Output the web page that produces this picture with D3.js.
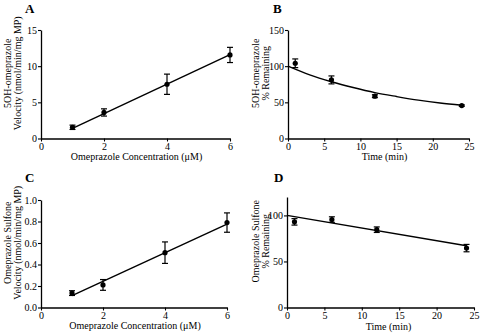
<!DOCTYPE html>
<html>
<head>
<meta charset="utf-8">
<script src="https://cdn.jsdelivr.net/npm/d3@7"></script>
<style>
  body { margin: 0; background: #fff; }
  svg text { font-family: "Liberation Serif", "Times New Roman", serif; fill: #000; }
</style>
</head>
<body>
<svg id="chart" width="480" height="333"></svg>
<script>
// ---- data ----
// A: 5OH-omeprazole formation velocity
var concA = [1, 2, 4, 6];
var velA = [1.55, 3.6, 7.5, 11.55];
var errA = [0.3, 0.5, 1.4, 1.05];
var fitA = [[1, 1.4], [6, 11.6]];

// B: 5OH-omeprazole % remaining
var timeB = [1, 6, 12, 24];
var remB = [104, 81, 58.5, 45.5];
var errB = [6, 5.5, 2, 1];
var fitB = [[0, 100], [3, 88], [6, 78.5], [9, 70.5], [12, 63.5], [15, 58], [18, 53], [21, 49], [24, 46]];

// C: omeprazole sulfone formation velocity
var concC = [1, 2, 4, 6];
var velC = [0.134, 0.21, 0.51, 0.79];
var errC = [0.022, 0.05, 0.1, 0.09];
var fitC = [[1, 0.11], [6, 0.775]];

// D: omeprazole sulfone % remaining
var timeD = [1, 6, 12, 24];
var remD = [93, 95.5, 84.5, 64.5];
var errD = [3.5, 3, 3, 4];
var fitD = [[0, 100], [24, 67]];

var svg = d3.select("#chart");
svg.append("rect").attr("width", 480).attr("height", 333).attr("fill", "#fff");

var panels = [
  {letter: "A", lx: 25, ly: 13, x0: 41, x1: 230, y0: 138.5, y1: 30,
   xDom: [0, 6], xTicks: [0, 2, 4, 6], yDom: [0, 15], yTicks: [0, 5, 10, 15], yFmt: d3.format("d"),
   xs: concA, ys: velA, es: errA, fit: fitA, curve: d3.curveLinear,
   xTitle: "Omeprazole Concentration (\u03bcM)", yTitle: ["5OH-omeprazole", "Velocity (nmol/min/mg MP)"],
   xtY: 160, xtDx: 0, ytX: [11, 21]},
  {letter: "B", lx: 273, ly: 13, x0: 288, x1: 469, y0: 138.5, y1: 30,
   xDom: [0, 25], xTicks: [0, 5, 10, 15, 20, 25], yDom: [0, 150], yTicks: [0, 50, 100, 150], yFmt: d3.format("d"),
   xs: timeB, ys: remB, es: errB, fit: fitB, curve: d3.curveMonotoneX,
   xTitle: "Time (min)", yTitle: ["5OH-omeprazole", "% Remaining"],
   xtY: 160, xtDx: 5, ytX: [259, 269]},
  {letter: "C", lx: 25, ly: 182, x0: 41, x1: 227, y0: 307.5, y1: 200,
   xDom: [0, 6], xTicks: [0, 2, 4, 6], yDom: [0, 1], yTicks: [0, 0.2, 0.4, 0.6, 0.8, 1.0], yFmt: d3.format(".1f"),
   xs: concC, ys: velC, es: errC, fit: fitC, curve: d3.curveLinear,
   xTitle: "Omeprazole Concentration (\u03bcM)", yTitle: ["Omeprazole Sulfone", "Velocity (nmol/min/mg MP)"],
   xtY: 329, xtDx: 0, ytX: [11, 21]},
  {letter: "D", lx: 274, ly: 182, x0: 287, x1: 474, y0: 307.5, y1: 197,
   xDom: [0, 25], xTicks: [0, 5, 10, 15, 20, 25], yDom: [0, 120], yTicks: [0, 50, 100], yFmt: d3.format("d"),
   xs: timeD, ys: remD, es: errD, fit: fitD, curve: d3.curveLinear,
   xTitle: "Time (min)", yTitle: ["Omeprazole Sulfone", "% Remaining"],
   xtY: 329.5, xtDx: 7, ytX: [259, 269]}
];

panels.forEach(function(p) {
  var x = d3.scaleLinear().domain(p.xDom).range([p.x0, p.x1]);
  var y = d3.scaleLinear().domain(p.yDom).range([p.y0, p.y1]);
  var g = svg.append("g");

  // panel letter
  g.append("text").attr("x", p.lx).attr("y", p.ly)
    .attr("font-size", 13).attr("font-weight", "bold").text(p.letter);

  // axes
  var xa = g.append("g").attr("transform", "translate(0," + p.y0 + ")")
    .call(d3.axisBottom(x).tickValues(p.xTicks).tickFormat(d3.format("d"))
      .tickSize(3).tickSizeOuter(0).tickPadding(1));
  var ya = g.append("g").attr("transform", "translate(" + p.x0 + ",0)")
    .call(d3.axisLeft(y).tickValues(p.yTicks).tickFormat(p.yFmt)
      .tickSize(3).tickSizeOuter(0).tickPadding(1));
  [xa, ya].forEach(function(a) {
    a.attr("font-family", null).attr("font-size", null);
    a.selectAll("text").attr("font-size", 10);
    a.select(".domain").attr("stroke", "#000").attr("stroke-width", 1.3);
    a.selectAll(".tick line").attr("stroke", "#000").attr("stroke-width", 1.1);
  });

  // axis titles
  var cx = (p.x0 + p.x1) / 2 + 1 + p.xtDx;
  g.append("text").attr("x", cx).attr("y", p.xtY)
    .attr("text-anchor", "middle").attr("font-size", 10).text(p.xTitle);
  var cy = (p.y0 + p.y1) / 2 - 11;
  p.yTitle.forEach(function(t, i) {
    g.append("text")
      .attr("transform", "translate(" + p.ytX[i] + "," + cy + ") rotate(-90)")
      .attr("text-anchor", "middle").attr("font-size", 10).text(t);
  });

  // fitted line / curve
  g.append("path").datum(p.fit)
    .attr("fill", "none").attr("stroke", "#000").attr("stroke-width", 1.4)
    .attr("d", d3.line().x(function(d) { return x(d[0]); }).y(function(d) { return y(d[1]); }).curve(p.curve));

  // error bars
  var pts = p.xs.map(function(v, i) { return {x: v, y: p.ys[i], e: p.es[i]}; });
  var eb = g.selectAll(".eb").data(pts).enter().append("g")
    .attr("stroke", "#000").attr("stroke-width", 1.2);
  eb.append("line")
    .attr("x1", function(d) { return x(d.x); }).attr("x2", function(d) { return x(d.x); })
    .attr("y1", function(d) { return y(d.y - d.e); }).attr("y2", function(d) { return y(d.y + d.e); });
  eb.append("line")
    .attr("x1", function(d) { return x(d.x) - 3; }).attr("x2", function(d) { return x(d.x) + 3; })
    .attr("y1", function(d) { return y(d.y + d.e); }).attr("y2", function(d) { return y(d.y + d.e); });
  eb.append("line")
    .attr("x1", function(d) { return x(d.x) - 3; }).attr("x2", function(d) { return x(d.x) + 3; })
    .attr("y1", function(d) { return y(d.y - d.e); }).attr("y2", function(d) { return y(d.y - d.e); });

  // points
  g.selectAll(".pt").data(pts).enter().append("circle")
    .attr("cx", function(d) { return x(d.x); })
    .attr("cy", function(d) { return y(d.y); })
    .attr("r", 2.6).attr("fill", "#000");
});
</script>
</body>
</html>
